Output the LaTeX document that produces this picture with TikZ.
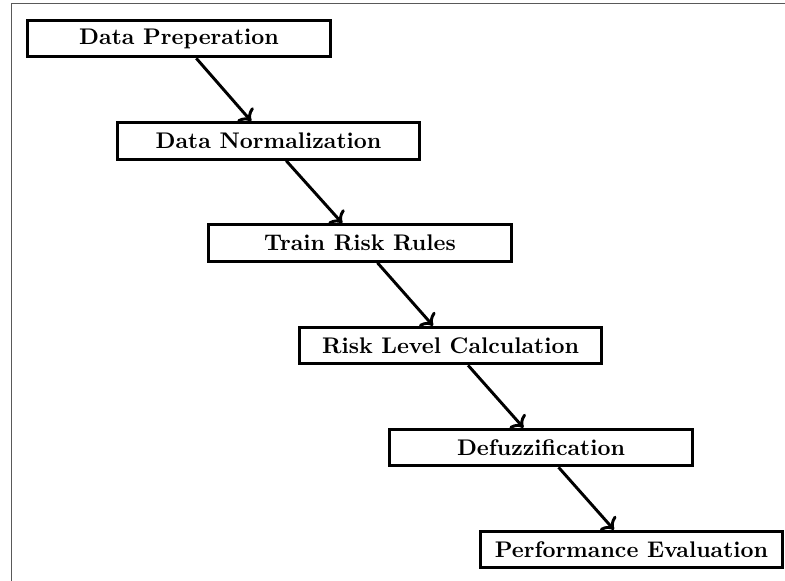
\documentclass[tikz,border=0pt]{standalone}
\usetikzlibrary{arrows.meta}

\begin{document}
\begin{tikzpicture}[x=0.01555cm,y=-0.01555cm,font=\bfseries,
  stage/.style={rectangle,draw=black,line width=1.3pt,fill=white,minimum width=4.70cm,minimum height=0.57cm,inner sep=0},
  flow/.style={->,line width=1.3pt,black},
  frame/.style={line width=0.5pt,black!65}]

%% page size and the visible part of the outer frame
\useasboundingbox (0,0) rectangle (785,581);
\draw[frame] (11.5,581) -- (11.5,3.5) -- (785,3.5);

%% stages of the pipeline
\foreach \i/\x/\y/\t in {1/179/38.5/Data Preperation, 2/268.5/141/Data Normalization,
    3/360/243/Train Risk Rules, 4/450.5/345.5/Risk Level Calculation,
    5/541/447.5/Defuzzification, 6/631.5/549.5/Performance Evaluation}
  \node[stage] (s\i) at (\x,\y) {\t};

%% arrows between consecutive stages
\foreach \a/\b in {s1/s2, s2/s3, s3/s4, s4/s5, s5/s6}
  \draw[flow] (\a) -- (\b);
\end{tikzpicture}
\end{document}
